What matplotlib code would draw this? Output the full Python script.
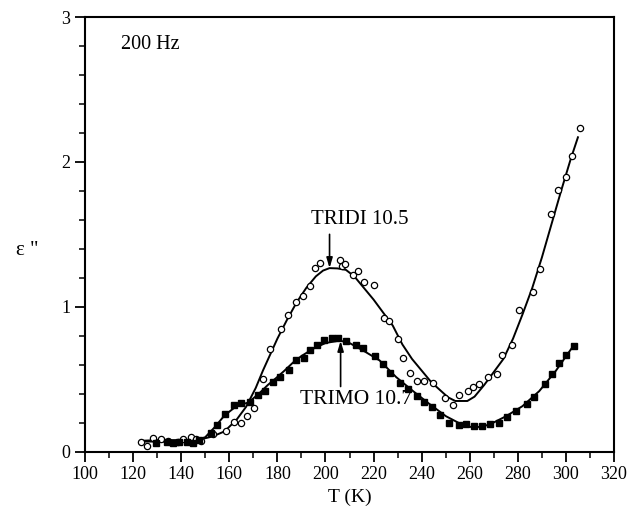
import matplotlib
matplotlib.use("Agg")
import matplotlib.pyplot as plt

# open circles (TRIDI)
tridi_T = [123.1, 125.6, 128.1, 131.4, 134.5, 138.5, 140.8, 143.9, 146.1, 148.4,
           153.3, 158.5, 161.9, 164.8, 167.4, 170.2, 174.0, 176.8, 181.6, 184.4,
           187.6, 190.6, 193.7, 195.5, 197.8, 205.9, 207.0, 208.3, 211.4, 213.4,
           216.2, 220.1, 224.5, 226.3, 230.3, 232.4, 235.2, 238.1, 241.1, 244.6,
           249.9, 252.9, 255.4, 259.1, 261.2, 264.0, 267.8, 271.2, 273.4, 277.5,
           280.6, 286.4, 289.3, 293.7, 296.9, 300.0, 302.4, 305.8]
tridi_e = [0.066, 0.04, 0.098, 0.09, 0.075, 0.066, 0.09, 0.10, 0.09, 0.077,
           0.12, 0.14, 0.205, 0.198, 0.244, 0.30, 0.50, 0.71, 0.85, 0.94,
           1.035, 1.077, 1.146, 1.267, 1.30, 1.325, 1.28, 1.295, 1.22, 1.25,
           1.174, 1.15, 0.923, 0.90, 0.78, 0.646, 0.54, 0.49, 0.49, 0.477,
           0.372, 0.319, 0.388, 0.418, 0.446, 0.465, 0.516, 0.535, 0.667, 0.737,
           0.981, 1.104, 1.262, 1.639, 1.809, 1.895, 2.041, 2.232]

# filled squares (TRIMO)
trimo_T = [129.5, 133.9, 136.4, 139.0, 142.6, 145.0, 147.5, 152.2, 154.9, 158.1,
           161.9, 164.8, 168.5, 171.9, 174.7, 178.2, 181.2, 184.8, 187.9, 190.9,
           193.7, 196.4, 199.6, 202.7, 205.4, 208.6, 212.8, 215.5, 220.4, 223.8,
           227.0, 231.2, 234.5, 238.0, 241.1, 244.2, 247.8, 251.3, 255.4, 258.4,
           261.6, 265.3, 268.5, 272.3, 275.3, 279.2, 284.0, 286.8, 291.4, 294.4,
           297.2, 300.0, 303.4]
trimo_e = [0.063, 0.068, 0.063, 0.07, 0.066, 0.058, 0.08, 0.128, 0.186, 0.26,
           0.319, 0.333, 0.342, 0.39, 0.418, 0.481, 0.519, 0.565, 0.632, 0.644,
           0.704, 0.739, 0.774, 0.784, 0.784, 0.767, 0.737, 0.714, 0.658, 0.605,
           0.542, 0.477, 0.43, 0.385, 0.342, 0.31, 0.256, 0.198, 0.181, 0.193,
           0.174, 0.179, 0.193, 0.198, 0.24, 0.284, 0.326, 0.379, 0.465, 0.535,
           0.61, 0.667, 0.732]

# fitted curves
tridi_fit_T = [123, 130, 140, 148, 153, 158, 163, 167, 171, 174, 177, 180, 184,
               188, 192, 196, 199, 201.7, 205, 208.5, 212, 216, 220, 224, 228,
               232, 236, 240, 244, 248, 251, 254, 259, 262, 266, 270, 274, 278,
               282, 286, 290, 294, 298, 302, 305]
tridi_fit_e = [0.075, 0.08, 0.08, 0.085, 0.105, 0.14, 0.22, 0.31, 0.44, 0.56,
               0.67, 0.78, 0.91, 1.03, 1.13, 1.21, 1.25, 1.267, 1.265, 1.255,
               1.21, 1.13, 1.05, 0.96, 0.87, 0.74, 0.64, 0.56, 0.48, 0.42, 0.375,
               0.35, 0.35, 0.38, 0.46, 0.55, 0.64, 0.78, 0.95, 1.13, 1.34, 1.57,
               1.80, 2.02, 2.17]

trimo_fit_T = [125, 135, 145, 150, 154, 158, 163, 168, 172.6, 176, 179.6, 183,
               186.5, 190, 194.8, 200, 205.9, 210, 215.5, 222.5, 229.4, 236.3,
               243.2, 250.1, 257, 261.9, 268.1, 275, 281.9, 288.9, 295.8, 302.7]
trimo_fit_e = [0.07, 0.07, 0.075, 0.10, 0.17, 0.25, 0.315, 0.34, 0.405, 0.46,
               0.51, 0.56, 0.615, 0.66, 0.71, 0.75, 0.767, 0.75, 0.70, 0.63,
               0.515, 0.42, 0.33, 0.245, 0.185, 0.165, 0.186, 0.244, 0.314,
               0.418, 0.558, 0.721]

plt.rcParams['font.family'] = ['Liberation Serif', 'DejaVu Serif']

fig = plt.figure(figsize=(6.42, 5.28), dpi=100)
ax = fig.add_axes([0.1324, 0.1445, 0.824, 0.8233])

ax.plot(tridi_fit_T, tridi_fit_e, color='black', lw=1.4)
ax.plot(trimo_fit_T, trimo_fit_e, color='black', lw=1.4)
ax.plot(tridi_T, tridi_e, 'o', mfc='white', mec='black', ms=4.5, mew=0.9)
ax.plot(trimo_T, trimo_e, 's', mfc='black', mec='black', ms=4.0)

arrow = dict(arrowstyle='-|>,head_width=0.18,head_length=0.6', color='black', lw=1.2,
             shrinkA=0, shrinkB=0)
ax.annotate('', xy=(201.7, 1.267), xytext=(201.7, 1.50), arrowprops=arrow)
ax.text(214.2, 1.60, 'TRIDI 10.5', ha='center', va='center', fontsize=15)
ax.annotate('', xy=(206.3, 0.765), xytext=(206.3, 0.45), arrowprops=arrow)
ax.text(212.9, 0.36, 'TRIMO 10.7', ha='center', va='center', fontsize=15.5)

ax.text(114.9, 2.81, '200 Hz', ha='left', va='center', fontsize=14.5)

ax.set_xlim(100, 320)
ax.set_ylim(0, 3)
ax.set_xticks(range(100, 321, 20))
ax.set_xticks(range(110, 320, 20), minor=True)
ax.set_yticks([0, 1, 2, 3])
ax.set_yticks([0.2, 0.4, 0.6, 0.8, 1.2, 1.4, 1.6, 1.8, 2.2, 2.4, 2.6, 2.8], minor=True)
ax.tick_params(which='major', direction='out', length=7, width=1.3, labelsize=13)
ax.tick_params(which='minor', direction='out', length=4, width=1.1)

for s in ax.spines.values():
    s.set_linewidth(1.5)

ax.set_xlabel('T (K)', fontsize=14)
ax.set_ylabel('ε "', fontsize=15, rotation=0, va='center', ha='center')
ax.yaxis.set_label_coords(-0.11, 0.462)

fig.savefig('out.png', dpi=100)
